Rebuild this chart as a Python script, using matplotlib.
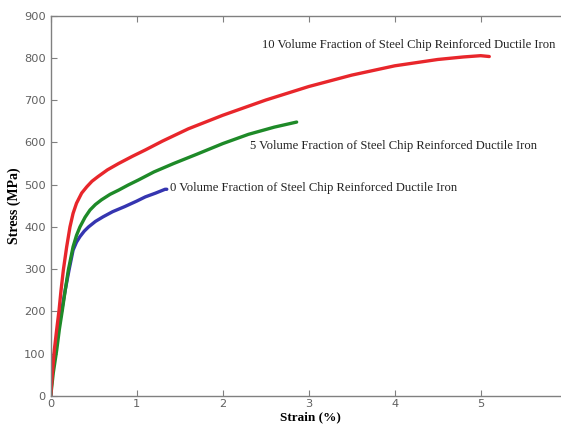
import matplotlib
matplotlib.use("Agg")
import matplotlib.pyplot as plt

# stress-strain curves
strain_10 = [0, 0.02, 0.042, 0.07, 0.097, 0.12, 0.147, 0.185, 0.224, 0.26, 0.30, 0.36, 0.42, 0.48, 0.55,
             0.66, 0.79, 0.95, 1.10, 1.3, 1.6, 2.0, 2.5, 3.0, 3.5, 4.0, 4.5, 4.8, 5.0, 5.1]
stress_10 = [0, 55, 109, 158, 203, 250, 298, 352, 400, 432, 456, 480, 495, 508, 519,
             535, 550, 567, 582, 603, 632, 664, 700, 732, 759, 781, 796, 802, 805, 803]

strain_5 = [0, 0.03, 0.07, 0.10, 0.135, 0.17, 0.205, 0.26, 0.30, 0.34, 0.40, 0.457, 0.52, 0.59, 0.69,
            0.79, 0.9, 1.02, 1.2, 1.43, 1.7, 2.0, 2.3, 2.6, 2.86]
stress_5 = [0, 55, 109, 157, 203, 252, 298, 353, 380, 400, 423, 440, 453, 464, 477,
            487, 499, 511, 530, 550, 572, 597, 619, 636, 648]

strain_0 = [0, 0.02, 0.05, 0.09, 0.13, 0.17, 0.213, 0.26, 0.30, 0.34, 0.39, 0.44, 0.52, 0.61, 0.72,
            0.86, 1.0, 1.10, 1.22, 1.33, 1.35]
stress_0 = [0, 69, 110, 160, 205, 252, 298, 345, 364, 377, 390, 400, 413, 424, 436,
            448, 461, 471, 480, 489, 489]

labels = ["10 Volume Fraction of Steel Chip Reinforced Ductile Iron",
          "5 Volume Fraction of Steel Chip Reinforced Ductile Iron",
          "0 Volume Fraction of Steel Chip Reinforced Ductile Iron"]
xticks = [0, 1, 2, 3, 4, 5]
yticks = [0, 100, 200, 300, 400, 500, 600, 700, 800, 900]

fig = plt.figure(figsize=(5.61, 4.24), dpi=100)
ax = fig.add_axes([0.0904, 0.066, 0.9096, 0.8974])

kw = dict(lw=2.4, solid_capstyle="round", solid_joinstyle="round")
ax.plot(strain_0, stress_0, color="#3535b0", **kw)
ax.plot(strain_5, stress_5, color="#1e8a28", **kw)
ax.plot(strain_10, stress_10, color="#e8262b", **kw)

serif = "Liberation Serif"
ax.text(2.46, 830, labels[0], fontsize=9.1, family=serif, color="#222222", va="center")
ax.text(2.32, 591, labels[1], fontsize=9.1, family=serif, color="#222222", va="center")
ax.text(1.39, 492, labels[2], fontsize=9.1, family=serif, color="#222222", va="center")

ax.set_xlim(0, 5.934)
ax.set_ylim(0, 900)
ax.set_xticks(xticks)
ax.set_yticks(yticks)
ax.tick_params(direction="in", top=True, right=False, length=4, width=0.8,
               colors="#808080", labelcolor="#606060", labelsize=8.2)
ax.tick_params(axis="x", pad=2)
for s in ["left", "bottom", "top"]:
    ax.spines[s].set_color("#808080")
    ax.spines[s].set_linewidth(1.0)
ax.spines["right"].set_visible(False)

fig.text(0.025, 0.516, "Stress (MPa)", rotation=90, ha="center", va="center",
         fontsize=10, family=serif, fontweight="bold")
fig.text(0.553, 0.001, "Strain (%)", ha="center", va="bottom",
         fontsize=9.5, family=serif, fontweight="bold")

fig.savefig("out.png", dpi=100)
